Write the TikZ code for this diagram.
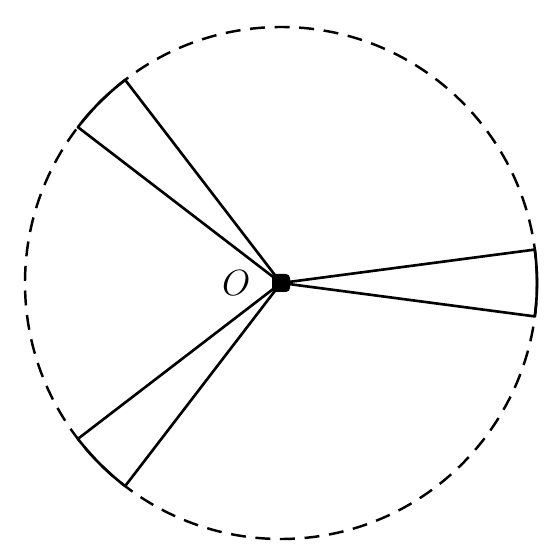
\documentclass[tikz,border=0pt]{standalone}
\usetikzlibrary{calc,positioning}
\begin{document}
\begin{tikzpicture}[line join=round, rim/.style={draw, line width=1.4pt, dash pattern=on 8.5pt off 5.5pt}, spoke/.style={draw, line width=1.5pt}]
    \useasboundingbox (0,0) rectangle (11,11.06);

    % Centre point and dashed circle
    \coordinate (centre) at (5.62,5.40);
    \draw[rim] (centre) circle (5.12);
    \node[rectangle, rounded corners=0.08cm, fill=black, inner sep=0pt, minimum size=0.36cm] (o) at (centre) {};
    \node[left=0.3cm of o, font=\fontsize{20}{24}\selectfont] (olabel) {$O$};

    % Three sectors
    \foreach \mid/\n in {0/r, 135/u, 225/d} {
        \coordinate (\n1) at ($(centre)+(\mid+7.5:5.12)$);
        \coordinate (\n2) at ($(centre)+(\mid-7.5:5.12)$);
        \draw[spoke] (o.center) -- (\n1) arc[start angle=\mid+7.5, end angle=\mid-7.5, radius=5.12] -- cycle;
    }
\end{tikzpicture}
\end{document}
